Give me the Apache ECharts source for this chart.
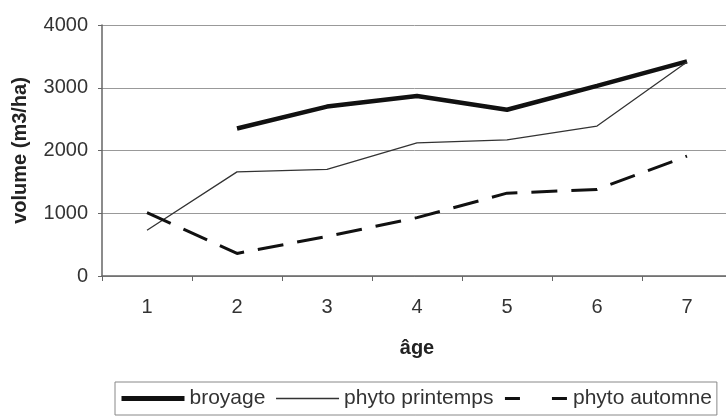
<!DOCTYPE html>
<html>
<head>
<meta charset="utf-8">
<script src="https://cdn.jsdelivr.net/npm/echarts@6/dist/echarts.min.js"></script>
<style>
html,body{margin:0;padding:0;background:#fff;}
#c{width:726px;height:417px;}
</style>
</head>
<body>
<div id="c"></div>
<script>
const categories = ['1', '2', '3', '4', '5', '6', '7'];
const broyage = [null, 2350, 2700, 2870, 2650, 3030, 3420];
const phytoPrintemps = [730, 1660, 1700, 2120, 2170, 2390, 3410];
const phytoAutomne = [1010, 360, 630, 930, 1320, 1380, 1910];
const yTicks = [0, 1000, 2000, 3000, 4000];

const font = '"Liberation Sans", Arial, sans-serif';
const chart = echarts.init(document.getElementById('c'), null, {renderer: 'canvas'});
chart.setOption({
  animation: false,
  backgroundColor: '#ffffff',
  textStyle: {fontFamily: font},
  grid: {left: 102, top: 25, width: 630, bottom: 141, outerBoundsMode: 'none', containLabel: false},
  legend: {
    left: 115, top: 382,
    padding: [6, 5, 6, 4],
    itemGap: 10,
    itemWidth: 63, itemHeight: 14,
    borderColor: '#888', borderWidth: 1,
    itemStyle: {opacity: 0},
    textStyle: {fontSize: 21, color: '#333', fontFamily: font},
    data: [
      {name: 'broyage', lineStyle: {width: 5, color: '#111'}},
      {name: 'phyto printemps', lineStyle: {width: 1.3, color: '#333'}},
      {name: 'phyto automne', lineStyle: {width: 3, color: '#111', type: [15, 32]}}
    ]
  },
  xAxis: {
    type: 'category',
    data: categories,
    boundaryGap: true,
    name: 'âge',
    nameLocation: 'middle',
    nameGap: 62,
    nameTextStyle: {fontSize: 20, fontWeight: 'bold', color: '#222', fontFamily: font},
    axisLine: {lineStyle: {color: '#666', width: 1.5}},
    axisTick: {show: true, length: 5, lineStyle: {color: '#666'}},
    axisLabel: {fontSize: 20, color: '#333', margin: 21, fontFamily: font},
    splitLine: {show: false}
  },
  yAxis: {
    type: 'value',
    min: yTicks[0], max: yTicks[yTicks.length - 1], interval: 1000,
    name: 'volume (m3/ha)',
    nameLocation: 'middle',
    nameGap: 72,
    nameRotate: 90,
    nameTextStyle: {fontSize: 20, fontWeight: 'bold', color: '#222', fontFamily: font},
    axisLine: {show: true, lineStyle: {color: '#666', width: 1.5}},
    axisTick: {show: true, length: 4, lineStyle: {color: '#666'}},
    axisLabel: {fontSize: 20, color: '#333', margin: 14, fontFamily: font,
      formatter: function (v) { return String(v); }},
    splitLine: {show: true, lineStyle: {color: '#999', width: 1}}
  },
  series: [
    {
      name: 'broyage', type: 'line', data: broyage, symbol: 'none',
      lineStyle: {color: '#111', width: 4.5}, itemStyle: {color: '#111'}
    },
    {
      name: 'phyto printemps', type: 'line', data: phytoPrintemps, symbol: 'none',
      lineStyle: {color: '#333', width: 1.3}, itemStyle: {color: '#333'}
    },
    {
      name: 'phyto automne', type: 'line', data: phytoAutomne, symbol: 'none',
      lineStyle: {color: '#111', width: 3, type: [26, 14]}, itemStyle: {color: '#111'}
    }
  ]
});
</script>
</body>
</html>
